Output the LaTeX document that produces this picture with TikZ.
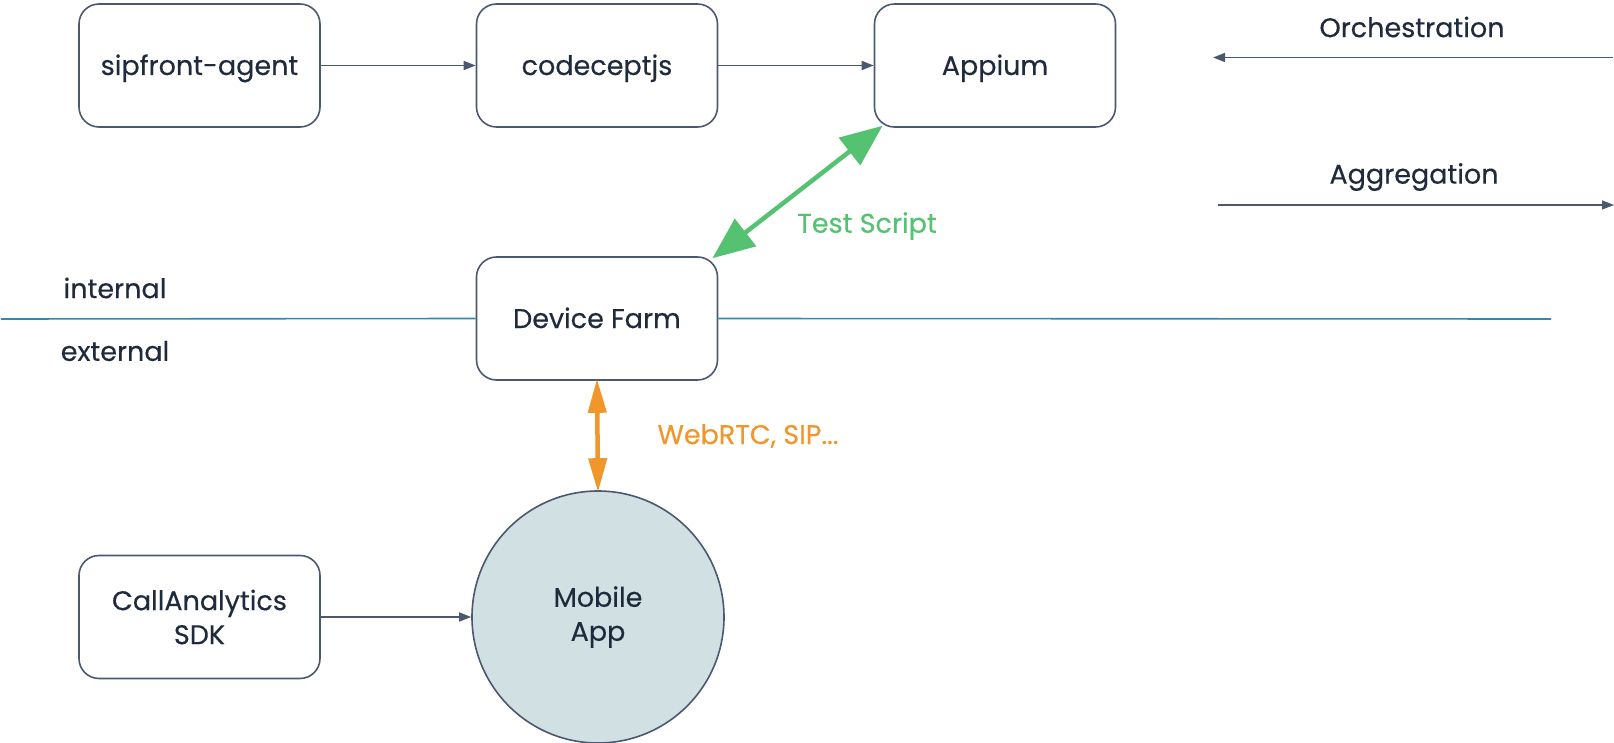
\documentclass[tikz,border=0pt]{standalone}
\usepackage{fontspec}
\setmainfont{Poppins}[FakeBold=0.35]
\usetikzlibrary{arrows.meta}
\definecolor{txt}{HTML}{1F2A3C}
\definecolor{edge}{HTML}{4A5870}
\definecolor{teal}{HTML}{2E8AB0}
\definecolor{grn}{HTML}{55C271}
\definecolor{org}{HTML}{F0962A}
\definecolor{appfill}{HTML}{D1E0E3}
\tikzset{
  txtfont/.style={font=\fontsize{27}{34}\selectfont},
  box/.style={draw=edge, line width=1.6pt, rounded corners=20pt, minimum width=241pt, minimum height=123pt, text=txt, txtfont, align=center, inner sep=0pt},
  oneline/.style={text height=25pt, text depth=6pt},
  lbl/.style={text=txt, txtfont, inner sep=0pt},
  flow/.style={draw=edge, line width=1.6pt, -{Triangle[length=12pt,width=9pt]}},
  bigarrow/.style={line width=4.5pt, {Triangle[length=42pt,width=34pt]}-{Triangle[length=42pt,width=34pt]}, shorten <=-2pt, shorten >=-2pt},
}
\begin{document}
\begin{tikzpicture}[x=1pt,y=-1pt]
\useasboundingbox (0,0) rectangle (1614,743);
\node[box, oneline] (agent) at (199.5,65.5) {sipfront-agent};
\node[box, oneline] (cept) at (597,65.5) {codeceptjs};
\node[box, oneline] (appium) at (995,65.5) {Appium};
\node[box, oneline] (farm) at (597,318.5) {Device Farm};
\node[box] (sdk) at (199.5,617) {CallAnalytics\\SDK};
\node[circle, draw=edge, line width=1.6pt, fill=appfill, minimum size=252pt, text=txt, txtfont, align=center, inner sep=0pt] (app) at (598,617) {Mobile\\App};
% boundary line
\coordinate (l0) at (1,319);
\coordinate (l1) at (1551,319);
\draw[teal, line width=1.6pt] (l0) -- (farm.west);
\draw[teal, line width=1.6pt] (farm.east) -- (l1);
\node[lbl] (internal) at (115,288) {internal};
\node[lbl] (external) at (115,351) {external};
% flows
\draw[flow] (agent.east) -- (cept.west);
\draw[flow] (cept.east) -- (appium.west);
\draw[flow] (sdk.east) -- (app.west);
% big arrows
\coordinate (dfc) at (714,257);
\coordinate (apc) at (881,127);
\draw[grn, bigarrow] (dfc) -- (apc);
\node[text=grn, txtfont, inner sep=0pt] (ts) at (867,226) {Test Script};
\draw[org, line width=4.5pt, {Triangle[length=34pt,width=18pt]}-{Triangle[length=34pt,width=18pt]}, shorten <=-2pt, shorten >=-2pt] (farm.south) -- (app.north);
\node[text=org, txtfont, inner sep=0pt] (web) at (748,436) {WebRTC, SIP...};
% legend
\coordinate (o1) at (1613,57.5);
\coordinate (o0) at (1213,57.5);
\draw[flow] (o1) -- (o0);
\node[lbl] (orch) at (1412,27) {Orchestration};
\coordinate (a0) at (1218,205);
\coordinate (a1) at (1614,205);
\draw[flow] (a0) -- (a1);
\node[lbl] (aggr) at (1414,177) {Aggregation};
\end{tikzpicture}
\end{document}
